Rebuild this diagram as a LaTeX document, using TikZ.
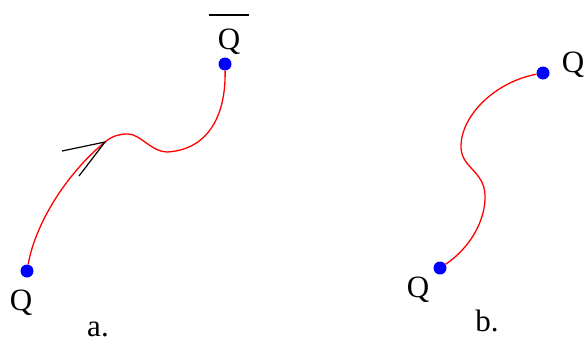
\documentclass[tikz,border=0pt]{standalone}
\usepackage{fontspec}
\setmainfont{Liberation Serif}
\usepackage{xcolor}
\usetikzlibrary{positioning}

\begin{document}
\begin{tikzpicture}[
  x=1pt, y=-1pt,
  every node/.style={font=\fontsize{31}{32}\selectfont, inner sep=0pt},
  quark/.style={circle, fill=blue, minimum size=13pt, inner sep=0pt},
  string/.style={red, line width=1.3pt},
  tick/.style={black, line width=1.2pt},
  bar/.style={black, line width=1.3pt}
]
\useasboundingbox (0,0) rectangle (586,343);

\node[quark] (qa) at (27,271) {};
\node[quark] (qabar) at (225,64) {};
\node[quark] (qb1) at (440,268) {};
\node[quark] (qb2) at (543,73) {};

\node (qalab) at (21,303) {Q};
\node (qabarlab) at (229,42) {Q};
\node (qb1lab) at (418,290) {Q};
\node (qb2lab) at (573,65) {Q};
\node (alab) at (98,329) {a.};
\node (blab) at (487,321) {b.};

\coordinate (tip) at (105,142);
\coordinate (peak) at (128,134);
\coordinate (valley) at (167,152);
\coordinate (tick1) at (62,151);
\coordinate (tick2) at (79,176);
\coordinate (bend1) at (485,195);
\coordinate (bend2) at (461,145);

\draw[string] (qa) .. controls (35,225) and (65,175) .. (tip)
  .. controls (113,135.4) and (120,134) .. (peak)
  .. controls (140,134) and (152,152) .. (valley)
  .. controls (205,150) and (226,120) .. (qabar);
\draw[string] (qb1) .. controls (470,248) and (486,220) .. (bend1)
  .. controls (484,170) and (460,168) .. (bend2)
  .. controls (462,115) and (495,82) .. (qb2);

\draw[tick] (tick1) -- (tip) -- (tick2);
\draw[bar] ([xshift=-9pt,yshift=14pt]qabarlab.north west) -- ([xshift=9pt,yshift=14pt]qabarlab.north east);
\end{tikzpicture}
\end{document}
